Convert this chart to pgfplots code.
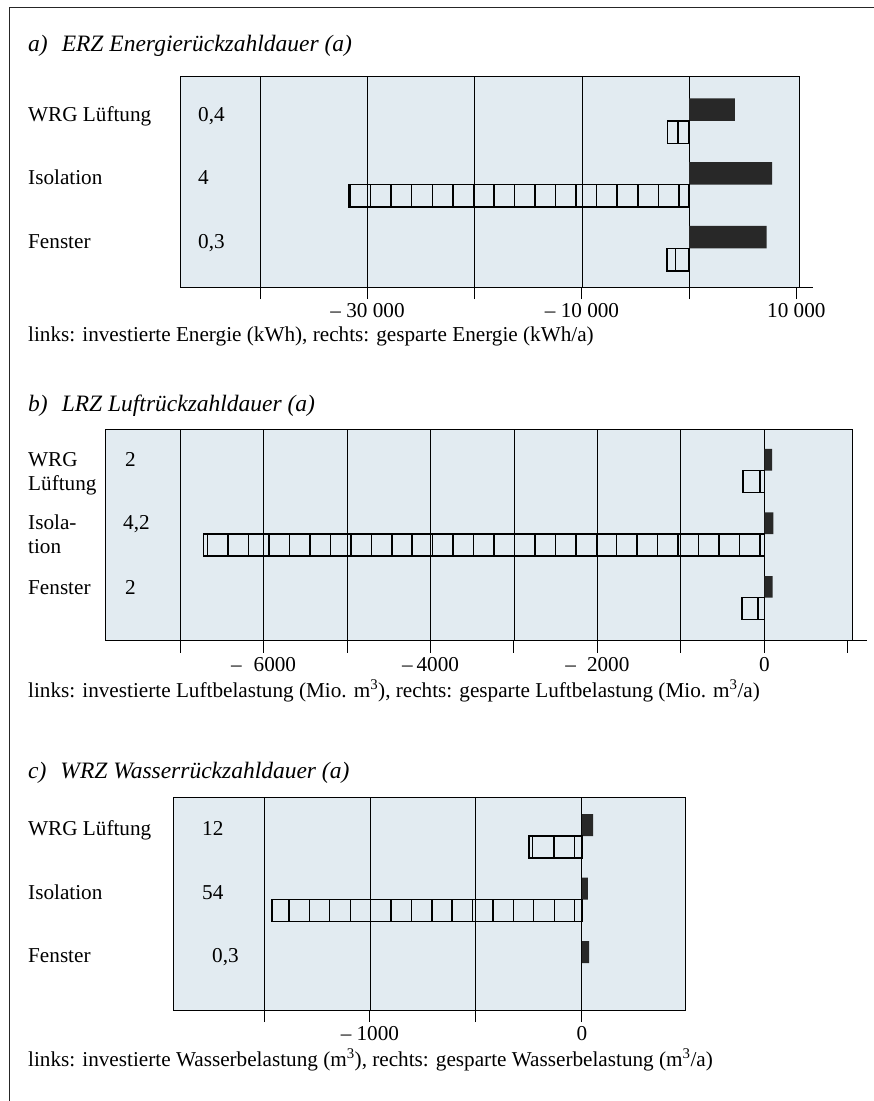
\documentclass[border=0pt]{standalone}
\usepackage{fontspec}
\setmainfont{Liberation Serif}
\usepackage{pgfplots}
\pgfplotsset{compat=1.18}
\definecolor{panelbg}{RGB}{226,235,241}
\definecolor{darkbar}{RGB}{40,40,40}
\newcommand{\fs}{\fontsize{21.2}{25}\selectfont}
\newcommand{\ts}{\fontsize{23.5}{28}\selectfont\itshape}
\begin{document}
\begin{tikzpicture}
\path[use as bounding box] (0,0) rectangle (874pt,-1101pt);
\draw[line width=1pt, black!85] (9pt,-1101pt) -- (9pt,-7.3pt) -- (874pt,-7.3pt);
\pgfplotsset{
  panel/.style={
    scale only axis,
    anchor=south west,
    axis background/.style={fill=panelbg},
    axis line style={line width=1pt},
    ytick=\empty,
    xtick pos=left,
    tick align=outside,
    major tick length=12pt,
    tick style={black, line width=1pt},
    xmajorgrids,
    grid style={black, line width=0.9pt},
    scaled x ticks=false,
    ticklabel style={font=\fs},
    xticklabel style={anchor=base, yshift=-18pt},
    clip=false,
  },
  blackbar/.style={xbar, bar shift=0pt, fill=darkbar, draw=none},
  hatchbar/.style={xbar, bar shift=0pt, fill=none, draw=black, line width=1.5pt},
}
\tikzset{lab/.style={anchor=base west, inner sep=0pt, font=\fs},
         ttl/.style={anchor=base west, inner sep=0pt, font=\ts}}

% ---------------- Panel a ----------------
\node[ttl] at (28pt,-51pt) {a)\hspace{14pt}ERZ Energierückzahldauer (a)};
\begin{axis}[panel, at={(180pt,-287pt)}, width=619pt, height=210.3pt,
  xmin=-47500, xmax=10250, ymin=0.395, ymax=3.692,
  xtick={-40000,-30000,-20000,-10000,0},
  xticklabels={{},{–~30~000},{},{–~10~000},{}},
  extra x ticks={10000}, extra x tick labels={10~000},
  extra x tick style={grid=none},
]
\addplot[blackbar, bar width=0.354] coordinates {(4270,3.177) (7740,2.177) (7240,1.177)};
\addplot[hatchbar, bar width=0.354] coordinates {(-2025,2.823) (-1060,2.823)};
\addplot[hatchbar, bar width=0.354] coordinates {
 (-31800,1.823) (-31632,1.823) (-29715,1.823) (-27798,1.823) (-25881,1.823)
 (-23964,1.823) (-22047,1.823) (-20130,1.823) (-18213,1.823) (-16296,1.823)
 (-14379,1.823) (-12462,1.823) (-10545,1.823) (-8628,1.823) (-6711,1.823)
 (-4794,1.823) (-2877,1.823) (-960,1.823)};
\addplot[hatchbar, bar width=0.354] coordinates {(-2060,0.823) (-1250,0.823)};
\draw[line width=1pt] (axis cs:10250,0.395) -- ++(14pt,0pt);
\end{axis}
\node[lab] at (28pt,-121pt) {WRG Lüftung};
\node[lab] at (28pt,-184pt) {Isolation};
\node[lab] at (28pt,-248pt) {Fenster};
\node[lab] at (198pt,-121pt) {0,4};
\node[lab] at (198pt,-184pt) {4};
\node[lab] at (198pt,-248pt) {0,3};
\node[lab] at (28pt,-341pt) {links: investierte Energie (kWh), rechts: gesparte Energie (kWh/a)};

% ---------------- Panel b ----------------
\node[ttl] at (28pt,-411pt) {b)\hspace{14pt}LRZ Luftrückzahldauer (a)};
\begin{axis}[panel, at={(105pt,-640.7pt)}, width=747pt, height=211.4pt,
  xmin=-7900, xmax=1050, ymin=0.323, ymax=3.652,
  xtick={-7000,-6000,-5000,-4000,-3000,-2000,-1000,0},
  xticklabels={{},{–\hspace{12pt}6000},{},{–\hspace{4pt}4000},{},{–\hspace{11pt}2000},{},0},
  extra x ticks={1000}, extra x tick labels={{}},
  extra x tick style={grid=none},
  xticklabel style={yshift=-1pt},
]
\addplot[blackbar, bar width=0.342] coordinates {(94,3.171) (107,2.171) (100,1.171)};
\addplot[hatchbar, bar width=0.342] coordinates {(-255,2.829) (-54,2.829)};
\addplot[hatchbar, bar width=0.342] coordinates {
 (-6718,1.829) (-6669,1.829) (-6424,1.829) (-6179,1.829) (-5934,1.829)
 (-5689,1.829) (-5444,1.829) (-5199,1.829) (-4954,1.829) (-4709,1.829)
 (-4464,1.829) (-4219,1.829) (-3974,1.829) (-3729,1.829) (-3484,1.829)
 (-3239,1.829) (-2994,1.829) (-2749,1.829) (-2504,1.829) (-2259,1.829)
 (-2014,1.829) (-1769,1.829) (-1524,1.829) (-1279,1.829) (-1034,1.829)
 (-789,1.829) (-544,1.829) (-299,1.829) (-54,1.829)};
\addplot[hatchbar, bar width=0.342] coordinates {(-268,0.829) (-74,0.829)};
\draw[line width=1pt] (axis cs:1050,0.323) -- ++(15pt,0pt);
\end{axis}
\node[lab] at (28pt,-466pt) {WRG};
\node[lab] at (28pt,-490pt) {Lüftung};
\node[lab] at (28pt,-529pt) {Isola-};
\node[lab] at (28pt,-553pt) {tion};
\node[lab] at (28pt,-594pt) {Fenster};
\node[lab] at (125pt,-466pt) {2};
\node[lab] at (123pt,-529pt) {4,2};
\node[lab] at (125pt,-594pt) {2};
\node[lab] at (28pt,-697pt) {links: investierte Luftbelastung (Mio. m\textsuperscript{3}), rechts: gesparte Luftbelastung (Mio. m\textsuperscript{3}/a)};

% ---------------- Panel c ----------------
\node[ttl] at (28pt,-778pt) {c)\hspace{14pt}WRZ Wasserrückzahldauer (a)};
\begin{axis}[panel, at={(173.4pt,-1010pt)}, width=512.2pt, height=212.3pt,
  xmin=-1928, xmax=490, ymin=0.26, ymax=3.603,
  xtick={-1500,-1000,-500,0},
  xticklabels={{},{–\hspace{5pt}1000},{},0},
]
\addplot[blackbar, bar width=0.346] coordinates {(53,3.173) (29,2.173) (34,1.173)};
\addplot[hatchbar, bar width=0.346] coordinates {(-250,2.827) (-232,2.827) (-132,2.827) (-34,2.827)};
\addplot[hatchbar, bar width=0.346] coordinates {
 (-1463,1.827) (-1382,1.827) (-1286,1.827) (-1190,1.827) (-1093,1.827)
 (-997,1.827) (-901,1.827) (-804,1.827) (-708,1.827) (-612,1.827)
 (-516,1.827) (-419,1.827) (-323,1.827) (-227,1.827) (-130,1.827) (-34,1.827)};
\end{axis}
\node[lab] at (28pt,-835pt) {WRG Lüftung};
\node[lab] at (28pt,-899pt) {Isolation};
\node[lab] at (28pt,-962pt) {Fenster};
\node[lab] at (202pt,-835pt) {12};
\node[lab] at (202pt,-899pt) {54};
\node[lab] at (212pt,-962pt) {0,3};
\node[lab] at (28pt,-1066pt) {links: investierte Wasserbelastung (m\textsuperscript{3}), rechts: gesparte Wasserbelastung (m\textsuperscript{3}/a)};
\end{tikzpicture}
\end{document}
